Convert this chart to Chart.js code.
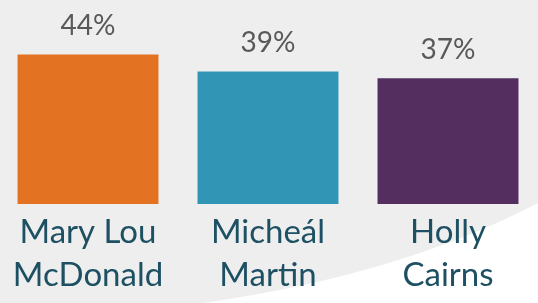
<!DOCTYPE html>
<html>
<head>
<meta charset="utf-8">
<script src="https://cdn.jsdelivr.net/npm/chart.js@4/dist/chart.umd.min.js"></script>
<style>
  html, body { margin: 0; padding: 0; background: #eeeeee; overflow: hidden; }
  #wrap { position: relative; width: 540px; height: 303px; margin-left: -2px; }
</style>
</head>
<body>
<div id="wrap"><canvas id="myChart"></canvas></div>
<script>
const candidates = [['Mary Lou', 'McDonald'], ['Micheál', 'Martin'], ['Holly', 'Cairns']];
const support = [44, 39, 37];
const barColours = ['#e37222', '#3195b5', '#532e5f'];

// grey backdrop with the white swoosh in the bottom right
const backdrop = {
  id: 'backdrop',
  beforeDraw(chart) {
    const ctx = chart.ctx;
    ctx.save();
    ctx.fillStyle = '#eeeeee';
    ctx.fillRect(0, 0, chart.width, chart.height);
    ctx.fillStyle = '#ffffff';
    ctx.beginPath();
    ctx.moveTo(205, 303);
    ctx.quadraticCurveTo(402, 275, 540, 203);
    ctx.lineTo(540, 303);
    ctx.closePath();
    ctx.fill();
    ctx.restore();
  }
};

// percentage labels above the bars
const valueLabels = {
  id: 'valueLabels',
  afterDatasetsDraw(chart) {
    const ctx = chart.ctx;
    const meta = chart.getDatasetMeta(0);
    ctx.save();
    ctx.font = '28px Lato';
    ctx.fillStyle = '#595959';
    ctx.textAlign = 'center';
    ctx.textBaseline = 'alphabetic';
    meta.data.forEach((bar, i) => {
      ctx.fillText(support[i] + '%', bar.x, bar.y - 19);
    });
    ctx.restore();
  }
};

const config = {
  type: 'bar',
  data: {
    labels: candidates,
    datasets: [{
      data: support,
      backgroundColor: barColours,
      borderWidth: 0,
      categoryPercentage: 1,
      barPercentage: 0.783
    }]
  },
  options: {
    responsive: true,
    maintainAspectRatio: false,
    animation: false,
    layout: { padding: 0 },
    plugins: {
      legend: { display: false },
      tooltip: { enabled: false }
    },
    scales: {
      y: {
        display: false,
        min: 0,
        max: 60
      },
      x: {
        grid: { display: false, drawTicks: false },
        border: { display: false },
        afterFit: (scale) => { scale.height = 99; },
        ticks: {
          color: '#1d5062',
          font: { family: 'Lato', size: 33, lineHeight: 1.3 },
          padding: 7,
          maxRotation: 0,
          autoSkip: false
        }
      }
    }
  },
  plugins: [backdrop, valueLabels]
};

const myChart = new Chart(document.getElementById('myChart'), config);
</script>
</body>
</html>
